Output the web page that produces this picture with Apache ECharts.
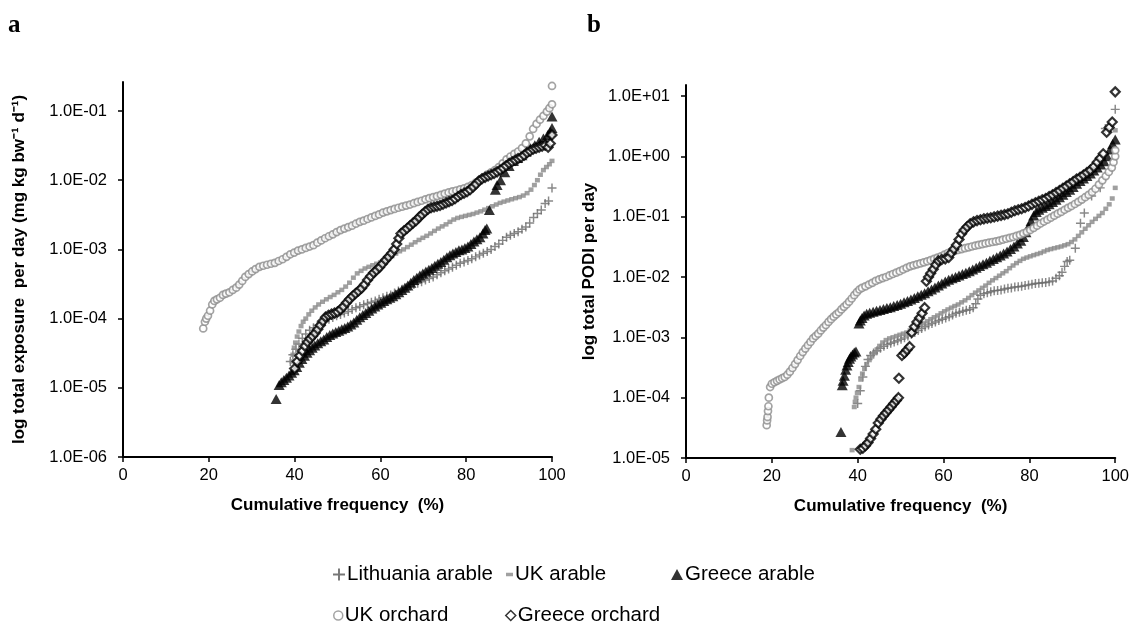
<!DOCTYPE html>
<html>
<head>
<meta charset="utf-8">
<script src="https://cdn.jsdelivr.net/npm/echarts@6/dist/echarts.min.js"></script>
<style>
html,body{margin:0;padding:0;background:#fff;}
#c{width:1132px;height:625px;}
</style>
</head>
<body>
<div id="c"></div>
<script>
// ---------- DATA (x = cumulative frequency %, y = value) ----------
const seriesNames = ['Lithuania arable', 'UK arable', 'Greece arable', 'UK orchard', 'Greece orchard'];
const xTicks = [0, 20, 40, 60, 80, 100];
const yTicksA = [-6, -5, -4, -3, -2, -1];      // log10 of tick values, panel a
const yTicksB = [-5, -4, -3, -2, -1, 0, 1];    // log10 of tick values, panel b

// Panel a: total exposure per day (mg kg bw-1 d-1)
const aLithuaniaArable = [[39.0,2.4e-5],[39.6,3.0e-5],[40.3,3.6e-5],[41.0,4.3e-5],[41.8,5.2e-5],[42.6,6.0e-5],[43.5,6.8e-5],[44.4,7.4e-5],[45.3,8.0e-5],[46.2,8.6e-5],[47.1,9.2e-5],[48.0,9.8e-5],[48.9,1.04e-4],[49.8,1.1e-4],[50.7,1.15e-4],[51.6,1.2e-4],[52.5,1.27e-4],[53.4,1.35e-4],[54.3,1.43e-4],[55.2,1.5e-4],[56.1,1.58e-4],[57.0,1.65e-4],[57.9,1.72e-4],[58.8,1.8e-4],[59.7,1.9e-4],[60.6,2.0e-4],[61.5,2.1e-4],[62.4,2.2e-4],[63.3,2.35e-4],[64.2,2.5e-4],[65.1,2.65e-4],[66.0,2.8e-4],[66.9,2.95e-4],[67.8,3.1e-4],[68.7,3.25e-4],[69.6,3.4e-4],[70.5,3.6e-4],[71.4,3.8e-4],[72.3,4.0e-4],[73.2,4.3e-4],[74.1,4.6e-4],[75.0,4.9e-4],[75.9,5.2e-4],[76.8,5.5e-4],[77.7,5.9e-4],[78.6,6.3e-4],[79.5,6.6e-4],[80.4,6.9e-4],[81.3,7.3e-4],[82.2,7.8e-4],[83.1,8.3e-4],[84.0,8.8e-4],[84.9,9.3e-4],[85.8,1.0e-3],[86.7,1.1e-3],[87.6,1.2e-3],[88.5,1.35e-3],[89.4,1.5e-3],[90.3,1.6e-3],[91.2,1.7e-3],[92.1,1.8e-3],[93.0,1.95e-3],[93.9,2.1e-3],[94.8,2.4e-3],[95.7,2.9e-3],[96.6,3.3e-3],[97.5,3.7e-3],[98.4,4.6e-3],[99.2,5.0e-3],[100,7.7e-3]];
const aUkArable = [[39.4,2.4e-5],[39.6,3.0e-5],[39.9,3.8e-5],[40.2,4.5e-5],[40.6,5.5e-5],[41.0,6.5e-5],[41.5,7.8e-5],[42.0,9.0e-5],[42.6,1.0e-4],[43.3,1.15e-4],[44.0,1.3e-4],[44.8,1.45e-4],[45.6,1.6e-4],[46.5,1.75e-4],[47.4,1.9e-4],[48.3,2.05e-4],[49.2,2.2e-4],[50.1,2.4e-4],[51.0,2.6e-4],[51.9,2.9e-4],[52.8,3.3e-4],[53.7,3.9e-4],[54.6,4.5e-4],[55.5,4.9e-4],[56.4,5.3e-4],[57.3,5.6e-4],[58.2,5.9e-4],[59.1,6.2e-4],[60.0,6.5e-4],[60.9,6.9e-4],[61.8,7.4e-4],[62.7,8.0e-4],[63.6,8.7e-4],[64.5,9.4e-4],[65.4,1.0e-3],[66.3,1.08e-3],[67.2,1.17e-3],[68.1,1.27e-3],[69.0,1.37e-3],[69.9,1.47e-3],[70.8,1.57e-3],[71.7,1.7e-3],[72.6,1.85e-3],[73.5,2.0e-3],[74.4,2.15e-3],[75.3,2.3e-3],[76.2,2.5e-3],[77.1,2.7e-3],[78.0,2.85e-3],[78.9,2.95e-3],[79.8,3.05e-3],[80.7,3.15e-3],[81.6,3.25e-3],[82.5,3.4e-3],[83.4,3.55e-3],[84.3,3.75e-3],[85.2,3.95e-3],[86.1,4.2e-3],[87.0,4.45e-3],[87.9,4.7e-3],[88.8,4.9e-3],[89.7,5.1e-3],[90.6,5.3e-3],[91.5,5.5e-3],[92.4,5.7e-3],[93.3,6.0e-3],[94.2,6.5e-3],[95.1,7.3e-3],[95.9,8.5e-3],[96.6,1.0e-2],[97.3,1.2e-2],[98.0,1.4e-2],[98.7,1.55e-2],[99.4,1.7e-2],[100,1.9e-2]];
const aGreeceArable = [[35.7,6.9e-6],[36.4,1.1e-5],[36.9,1.2e-5],[37.5,1.3e-5],[38.1,1.4e-5],[38.7,1.5e-5],[39.3,1.65e-5],[39.9,1.8e-5],[40.5,2.0e-5],[41.1,2.3e-5],[41.7,2.6e-5],[42.3,2.9e-5],[42.9,3.2e-5],[43.5,3.5e-5],[44.1,3.8e-5],[44.7,4.1e-5],[45.4,4.4e-5],[46.1,4.7e-5],[46.8,5.0e-5],[47.5,5.4e-5],[48.2,5.8e-5],[48.9,6.1e-5],[49.6,6.4e-5],[50.3,6.7e-5],[51.0,7.0e-5],[51.7,7.3e-5],[52.4,7.7e-5],[53.1,8.2e-5],[53.8,8.8e-5],[54.5,9.6e-5],[55.2,1.05e-4],[55.9,1.13e-4],[56.6,1.2e-4],[57.3,1.3e-4],[58.0,1.4e-4],[58.7,1.5e-4],[59.4,1.6e-4],[60.1,1.7e-4],[60.8,1.8e-4],[61.5,1.9e-4],[62.2,2.0e-4],[62.9,2.1e-4],[63.6,2.25e-4],[64.3,2.4e-4],[65.0,2.6e-4],[65.7,2.8e-4],[66.4,3.0e-4],[67.1,3.3e-4],[67.8,3.6e-4],[68.5,3.9e-4],[69.2,4.2e-4],[69.9,4.5e-4],[70.6,4.8e-4],[71.3,5.1e-4],[72.0,5.4e-4],[72.7,5.8e-4],[73.4,6.2e-4],[74.1,6.6e-4],[74.8,7.1e-4],[75.5,7.7e-4],[76.2,8.2e-4],[76.9,8.7e-4],[77.6,9.2e-4],[78.3,9.7e-4],[79.0,1.0e-3],[79.7,1.05e-3],[80.4,1.1e-3],[81.1,1.2e-3],[81.8,1.3e-3],[82.5,1.4e-3],[83.2,1.5e-3],[83.9,1.7e-3],[84.4,1.9e-3],[84.8,2.0e-3],[85.4,3.7e-3],[86.8,7.3e-3],[87.2,8.5e-3],[88.0,1.0e-2],[89.0,1.3e-2],[90.0,1.6e-2],[91.0,1.9e-2],[92.0,2.1e-2],[93.0,2.3e-2],[94.0,2.6e-2],[95.0,2.9e-2],[96.0,3.2e-2],[97.0,3.6e-2],[98.0,4.0e-2],[99.0,4.5e-2],[99.6,5.0e-2],[100,5.7e-2],[100,8.3e-2]];
const aUkOrchard = [[18.7,7.2e-5],[19.1,9.0e-5],[19.4,1.0e-4],[19.8,1.1e-4],[20.3,1.3e-4],[20.8,1.6e-4],[21.3,1.8e-4],[21.9,1.9e-4],[22.6,2.0e-4],[23.3,2.2e-4],[24.0,2.3e-4],[24.8,2.4e-4],[25.6,2.6e-4],[26.4,2.8e-4],[27.1,3.1e-4],[27.8,3.5e-4],[28.5,4.0e-4],[29.3,4.4e-4],[30.1,4.8e-4],[30.9,5.2e-4],[31.8,5.6e-4],[32.7,5.8e-4],[33.6,6.0e-4],[34.5,6.2e-4],[35.4,6.4e-4],[36.3,6.8e-4],[37.2,7.2e-4],[38.1,7.8e-4],[39.0,8.5e-4],[39.9,9.0e-4],[40.8,9.6e-4],[41.7,1.0e-3],[42.6,1.05e-3],[43.5,1.1e-3],[44.4,1.15e-3],[45.3,1.25e-3],[46.2,1.35e-3],[47.1,1.45e-3],[48.0,1.55e-3],[48.9,1.65e-3],[49.8,1.78e-3],[50.7,1.9e-3],[51.6,2.0e-3],[52.5,2.1e-3],[53.4,2.2e-3],[54.3,2.35e-3],[55.2,2.5e-3],[56.1,2.6e-3],[57.0,2.75e-3],[57.9,2.9e-3],[58.8,3.05e-3],[59.7,3.2e-3],[60.6,3.4e-3],[61.5,3.55e-3],[62.4,3.7e-3],[63.3,3.85e-3],[64.2,4.0e-3],[65.1,4.15e-3],[66.0,4.3e-3],[66.9,4.45e-3],[67.8,4.65e-3],[68.7,4.85e-3],[69.6,5.05e-3],[70.5,5.3e-3],[71.4,5.5e-3],[72.3,5.7e-3],[73.2,5.9e-3],[74.1,6.15e-3],[75.0,6.4e-3],[75.9,6.65e-3],[76.8,6.9e-3],[77.7,7.1e-3],[78.6,7.35e-3],[79.5,7.6e-3],[80.4,8.0e-3],[81.3,8.5e-3],[82.2,9.2e-3],[83.1,1.0e-2],[84.0,1.1e-2],[84.9,1.2e-2],[85.8,1.3e-2],[86.7,1.4e-2],[87.6,1.55e-2],[88.5,1.75e-2],[89.4,2.0e-2],[90.3,2.2e-2],[91.2,2.4e-2],[92.1,2.6e-2],[93.0,2.9e-2],[93.9,3.4e-2],[94.8,4.3e-2],[95.6,5.5e-2],[96.4,6.5e-2],[97.2,7.5e-2],[98.0,8.5e-2],[98.8,9.8e-2],[99.4,1.1e-1],[100,1.25e-1],[100,2.3e-1],[100,2.7e-1]];
const aGreeceOrchard = [[40.0,1.9e-5],[40.6,2.4e-5],[41.2,2.9e-5],[41.8,3.4e-5],[42.4,4.0e-5],[43.0,4.6e-5],[43.6,5.1e-5],[44.2,5.6e-5],[44.8,6.2e-5],[45.4,7.0e-5],[46.0,8.0e-5],[46.6,9.2e-5],[47.2,1.05e-4],[47.9,1.12e-4],[48.6,1.16e-4],[49.3,1.2e-4],[50.0,1.25e-4],[50.7,1.35e-4],[51.4,1.5e-4],[52.1,1.7e-4],[52.8,1.9e-4],[53.5,2.1e-4],[54.2,2.3e-4],[54.9,2.5e-4],[55.6,2.75e-4],[56.3,3.1e-4],[57.0,3.6e-4],[57.7,4.1e-4],[58.4,4.6e-4],[59.1,5.0e-4],[59.8,5.5e-4],[60.5,6.2e-4],[61.2,7.0e-4],[61.9,7.8e-4],[62.6,8.8e-4],[63.2,1.0e-3],[63.8,1.2e-3],[64.3,1.45e-3],[64.8,1.7e-3],[65.5,1.85e-3],[66.2,2.0e-3],[66.9,2.2e-3],[67.6,2.4e-3],[68.3,2.6e-3],[69.0,2.9e-3],[69.7,3.2e-3],[70.4,3.5e-3],[71.1,3.8e-3],[71.8,4.0e-3],[72.5,4.1e-3],[73.2,4.2e-3],[73.9,4.3e-3],[74.6,4.5e-3],[75.3,4.7e-3],[76.0,4.9e-3],[76.7,5.1e-3],[77.4,5.4e-3],[78.1,5.8e-3],[78.8,6.2e-3],[79.5,6.5e-3],[80.2,6.8e-3],[80.9,7.3e-3],[81.6,8.0e-3],[82.3,8.8e-3],[83.0,9.8e-3],[83.7,1.05e-2],[84.4,1.1e-2],[85.1,1.15e-2],[85.8,1.2e-2],[86.5,1.25e-2],[87.2,1.32e-2],[87.9,1.4e-2],[88.6,1.5e-2],[89.3,1.62e-2],[90.0,1.75e-2],[90.7,1.85e-2],[91.4,1.95e-2],[92.1,2.05e-2],[92.8,2.15e-2],[93.5,2.3e-2],[94.2,2.5e-2],[94.9,2.65e-2],[95.6,2.8e-2],[96.3,2.9e-2],[97.0,3.0e-2],[97.7,3.1e-2],[98.4,3.2e-2],[99.1,3.0e-2],[99.6,3.4e-2],[100,4.5e-2]];

// Panel b: total PODI per day
const bLithuaniaArable = [[40.0,8.0e-5],[40.6,1.3e-4],[41.2,2.2e-4],[41.8,3.3e-4],[42.4,4.3e-4],[43.0,5.0e-4],[43.7,5.5e-4],[44.5,6.0e-4],[45.3,6.6e-4],[46.1,7.1e-4],[46.9,7.6e-4],[47.7,8.0e-4],[48.5,8.4e-4],[49.3,8.8e-4],[50.1,9.3e-4],[50.9,9.8e-4],[51.7,1.05e-3],[52.5,1.12e-3],[53.3,1.2e-3],[54.1,1.3e-3],[54.9,1.4e-3],[55.7,1.5e-3],[56.5,1.6e-3],[57.3,1.7e-3],[58.1,1.8e-3],[58.9,1.9e-3],[59.7,2.0e-3],[60.5,2.1e-3],[61.3,2.2e-3],[62.1,2.35e-3],[62.9,2.5e-3],[63.7,2.6e-3],[64.5,2.7e-3],[65.3,2.8e-3],[66.1,2.9e-3],[66.9,3.1e-3],[67.5,3.6e-3],[68.0,4.3e-3],[68.6,5.0e-3],[69.4,5.3e-3],[70.2,5.5e-3],[71.0,5.7e-3],[71.8,5.9e-3],[72.6,6.0e-3],[73.4,6.1e-3],[74.2,6.3e-3],[75.0,6.5e-3],[75.8,6.6e-3],[76.6,6.8e-3],[77.4,6.9e-3],[78.2,7.0e-3],[79.0,7.2e-3],[79.8,7.4e-3],[80.6,7.6e-3],[81.4,7.8e-3],[82.2,7.9e-3],[83.0,8.0e-3],[83.8,8.1e-3],[84.6,8.3e-3],[85.4,8.6e-3],[86.2,9.5e-3],[87.0,1.05e-2],[87.6,1.2e-2],[88.2,1.5e-2],[88.8,1.8e-2],[89.4,1.9e-2],[90.7,3.0e-2],[91.9,7.8e-2],[92.8,1.15e-1],[94.5,2.2e-1],[96.5,3.0e-1],[97.7,2.9],[100,6.0]];
const bUkArable = [[38.7,1.35e-5],[39.2,7.0e-5],[39.4,8.5e-5],[39.6,1.0e-4],[39.9,1.2e-4],[40.3,1.5e-4],[40.7,2.0e-4],[41.1,2.5e-4],[41.6,3.0e-4],[42.1,3.6e-4],[42.7,4.2e-4],[43.3,4.8e-4],[43.9,5.5e-4],[44.5,6.3e-4],[45.1,7.2e-4],[45.8,8.2e-4],[46.6,9.0e-4],[47.4,9.6e-4],[48.2,1.0e-3],[49.0,1.05e-3],[49.8,1.1e-3],[50.6,1.15e-3],[51.4,1.2e-3],[52.2,1.3e-3],[53.0,1.4e-3],[53.8,1.5e-3],[54.6,1.6e-3],[55.4,1.7e-3],[56.2,1.85e-3],[57.0,2.0e-3],[57.8,2.15e-3],[58.6,2.3e-3],[59.4,2.5e-3],[60.2,2.7e-3],[61.0,2.9e-3],[61.8,3.1e-3],[62.6,3.3e-3],[63.4,3.5e-3],[64.2,3.8e-3],[65.0,4.1e-3],[65.8,4.5e-3],[66.6,5.0e-3],[67.4,5.5e-3],[68.2,6.0e-3],[69.0,6.6e-3],[69.8,7.2e-3],[70.6,8.0e-3],[71.4,8.8e-3],[72.2,9.6e-3],[73.0,1.05e-2],[73.8,1.15e-2],[74.6,1.25e-2],[75.4,1.4e-2],[76.2,1.55e-2],[77.0,1.7e-2],[77.8,1.85e-2],[78.6,2.0e-2],[79.4,2.1e-2],[80.2,2.2e-2],[81.0,2.3e-2],[81.8,2.4e-2],[82.6,2.5e-2],[83.4,2.65e-2],[84.2,2.8e-2],[85.0,2.9e-2],[85.8,3.0e-2],[86.6,3.1e-2],[87.4,3.2e-2],[88.2,3.35e-2],[89.0,3.5e-2],[89.8,3.8e-2],[90.6,4.2e-2],[91.4,4.8e-2],[92.2,5.5e-2],[93.0,6.3e-2],[93.8,7.2e-2],[94.6,8.2e-2],[95.4,9.2e-2],[96.2,1.03e-1],[97.0,1.15e-1],[97.8,1.35e-1],[98.6,1.6e-1],[99.3,2.0e-1],[100,3.0e-1],[100,2.7]];
const bGreeceArable = [[36.1,2.7e-5],[36.4,1.6e-4],[36.6,1.9e-4],[36.9,2.3e-4],[37.2,2.9e-4],[37.5,3.4e-4],[37.8,3.9e-4],[38.1,4.4e-4],[38.4,4.8e-4],[38.8,5.2e-4],[39.2,5.6e-4],[39.6,5.8e-4],[40.3,1.7e-3],[40.6,1.9e-3],[41.0,2.1e-3],[41.5,2.3e-3],[42.1,2.45e-3],[42.8,2.55e-3],[43.6,2.65e-3],[44.4,2.75e-3],[45.2,2.85e-3],[46.0,2.95e-3],[46.8,3.05e-3],[47.6,3.15e-3],[48.4,3.3e-3],[49.2,3.45e-3],[50.0,3.6e-3],[50.8,3.8e-3],[51.6,4.0e-3],[52.4,4.25e-3],[53.2,4.5e-3],[54.0,4.8e-3],[54.8,5.1e-3],[55.6,5.4e-3],[56.4,5.8e-3],[57.2,6.2e-3],[58.0,6.7e-3],[58.8,7.2e-3],[59.6,7.8e-3],[60.4,8.4e-3],[61.2,9.0e-3],[62.0,9.5e-3],[62.8,1.0e-2],[63.6,1.06e-2],[64.4,1.12e-2],[65.2,1.18e-2],[66.0,1.25e-2],[66.8,1.33e-2],[67.6,1.42e-2],[68.4,1.52e-2],[69.2,1.62e-2],[70.0,1.73e-2],[70.8,1.85e-2],[71.6,1.98e-2],[72.4,2.12e-2],[73.2,2.27e-2],[74.0,2.45e-2],[74.8,2.65e-2],[75.6,2.9e-2],[76.4,3.2e-2],[77.2,3.6e-2],[78.0,4.0e-2],[78.6,4.6e-2],[79.2,5.5e-2],[79.8,6.8e-2],[80.4,8.5e-2],[81.0,1.05e-1],[81.6,1.2e-1],[82.2,1.3e-1],[83.0,1.4e-1],[83.8,1.5e-1],[84.6,1.6e-1],[85.4,1.75e-1],[86.2,1.9e-1],[87.0,2.1e-1],[87.8,2.3e-1],[88.6,2.55e-1],[89.4,2.8e-1],[90.2,3.1e-1],[91.0,3.5e-1],[91.8,3.9e-1],[92.6,4.3e-1],[93.4,4.7e-1],[94.2,5.2e-1],[95.0,5.8e-1],[95.8,6.5e-1],[96.6,7.3e-1],[97.4,8.3e-1],[98.1,1.0],[98.8,1.3],[99.4,1.6],[100,1.9]];
const bUkOrchard = [[18.8,3.5e-5],[18.9,4.2e-5],[19.0,4.8e-5],[19.1,6.0e-5],[19.2,7.2e-5],[19.3,1.0e-4],[19.6,1.5e-4],[20.0,1.7e-4],[20.6,1.8e-4],[21.2,1.9e-4],[21.8,2.0e-4],[22.4,2.1e-4],[23.0,2.2e-4],[23.6,2.4e-4],[24.2,2.7e-4],[24.8,3.1e-4],[25.4,3.6e-4],[26.0,4.2e-4],[26.6,4.9e-4],[27.2,5.7e-4],[27.8,6.5e-4],[28.4,7.4e-4],[29.0,8.4e-4],[29.6,9.6e-4],[30.2,1.05e-3],[30.8,1.15e-3],[31.4,1.3e-3],[32.0,1.45e-3],[32.6,1.6e-3],[33.2,1.8e-3],[33.8,2.0e-3],[34.4,2.2e-3],[35.0,2.4e-3],[35.6,2.6e-3],[36.2,2.9e-3],[36.8,3.2e-3],[37.4,3.5e-3],[38.0,3.9e-3],[38.6,4.4e-3],[39.2,5.0e-3],[39.8,5.6e-3],[40.4,6.2e-3],[41.0,6.6e-3],[41.8,7.0e-3],[42.6,7.5e-3],[43.4,8.0e-3],[44.2,8.6e-3],[45.0,9.1e-3],[45.8,9.6e-3],[46.6,1.0e-2],[47.4,1.06e-2],[48.2,1.12e-2],[49.0,1.18e-2],[49.8,1.25e-2],[50.6,1.33e-2],[51.4,1.42e-2],[52.2,1.5e-2],[53.0,1.56e-2],[53.8,1.62e-2],[54.6,1.68e-2],[55.4,1.75e-2],[56.2,1.82e-2],[57.0,1.9e-2],[57.8,2.0e-2],[58.6,2.1e-2],[59.4,2.2e-2],[60.2,2.35e-2],[61.0,2.5e-2],[61.8,2.6e-2],[62.6,2.7e-2],[63.4,2.8e-2],[64.2,2.9e-2],[65.0,3.0e-2],[65.8,3.1e-2],[66.6,3.2e-2],[67.4,3.3e-2],[68.2,3.4e-2],[69.0,3.5e-2],[69.8,3.6e-2],[70.6,3.7e-2],[71.4,3.8e-2],[72.2,3.9e-2],[73.0,4.0e-2],[73.8,4.15e-2],[74.6,4.3e-2],[75.4,4.45e-2],[76.2,4.6e-2],[77.0,4.8e-2],[77.8,5.0e-2],[78.6,5.3e-2],[79.4,5.6e-2],[80.2,6.0e-2],[81.0,6.5e-2],[81.8,7.1e-2],[82.6,7.7e-2],[83.4,8.3e-2],[84.2,8.9e-2],[85.0,9.6e-2],[85.8,1.04e-1],[86.6,1.12e-1],[87.4,1.2e-1],[88.2,1.3e-1],[89.0,1.4e-1],[89.8,1.5e-1],[90.6,1.62e-1],[91.4,1.76e-1],[92.2,1.92e-1],[93.0,2.1e-1],[93.8,2.3e-1],[94.6,2.55e-1],[95.4,2.9e-1],[96.2,3.4e-1],[97.0,4.0e-1],[97.8,4.7e-1],[98.5,5.5e-1],[99.2,6.5e-1],[99.6,8.0e-1],[100,1.0],[100,1.26]];
const bGreeceOrchard = [[40.6,1.4e-5],[41.2,1.45e-5],[41.8,1.6e-5],[42.4,1.8e-5],[43.0,2.1e-5],[43.6,2.5e-5],[44.2,3.0e-5],[44.8,3.8e-5],[45.4,4.4e-5],[46.0,5.0e-5],[46.6,5.6e-5],[47.2,6.3e-5],[47.8,7.1e-5],[48.4,8.0e-5],[49.0,9.0e-5],[49.5,1.0e-4],[49.6,2.1e-4],[50.3,5.0e-4],[50.9,5.5e-4],[51.5,6.2e-4],[52.1,7.0e-4],[52.6,1.2e-3],[53.2,1.5e-3],[53.8,1.8e-3],[54.4,2.1e-3],[55.0,2.5e-3],[55.6,3.1e-3],[56.0,8.5e-3],[56.5,1.0e-2],[57.0,1.15e-2],[57.6,1.35e-2],[58.2,1.6e-2],[58.8,1.85e-2],[59.6,1.95e-2],[60.4,2.0e-2],[61.2,2.1e-2],[61.8,2.5e-2],[62.4,2.9e-2],[63.0,3.4e-2],[63.6,4.2e-2],[64.2,5.2e-2],[64.8,6.0e-2],[65.5,6.8e-2],[66.2,7.6e-2],[67.0,8.2e-2],[67.8,8.6e-2],[68.6,8.9e-2],[69.4,9.2e-2],[70.2,9.4e-2],[71.0,9.6e-2],[71.8,9.9e-2],[72.6,1.02e-1],[73.4,1.05e-1],[74.2,1.08e-1],[75.0,1.12e-1],[75.8,1.18e-1],[76.6,1.25e-1],[77.4,1.3e-1],[78.2,1.35e-1],[79.0,1.42e-1],[79.8,1.5e-1],[80.6,1.6e-1],[81.4,1.7e-1],[82.2,1.8e-1],[83.0,1.9e-1],[83.8,2.0e-1],[84.6,2.15e-1],[85.4,2.3e-1],[86.2,2.5e-1],[87.0,2.7e-1],[87.8,2.95e-1],[88.6,3.2e-1],[89.4,3.5e-1],[90.2,3.8e-1],[91.0,4.2e-1],[91.8,4.5e-1],[92.6,4.9e-1],[93.4,5.4e-1],[94.2,5.9e-1],[95.0,6.7e-1],[95.8,8.0e-1],[96.5,9.3e-1],[97.2,1.1],[98.0,2.5],[98.6,3.0],[99.3,3.7],[100,11.7]];

// ---------- CHART ----------
const FONT = '"Liberation Sans", Arial, Helvetica, sans-serif';
const toLog = arr => arr.map(p => [p[0], Math.log10(p[1])]);
const fmtE = v => { const n = Math.round(v); return '1.0E' + (n < 0 ? '-' : '+') + String(Math.abs(n)).padStart(2, '0'); };

const PLUS = 'path://M0,3.35H8V4.65H0Z M3.35,0H4.65V8H3.35Z';
const styles = {
  'Lithuania arable': { symbol: PLUS, symbolSize: 9, itemStyle: { color: '#6a6a6a' } },
  'UK arable': { symbol: 'rect', symbolSize: [5, 4.5], itemStyle: { color: '#888' } },
  'Greece arable': { symbol: 'triangle', symbolSize: [11, 10], itemStyle: { color: '#000' } },
  'UK orchard': { symbol: 'circle', symbolSize: 7, itemStyle: { color: '#fff', borderColor: '#8c8c8c', borderWidth: 1.7 } },
  'Greece orchard': { symbol: 'diamond', symbolSize: 9, itemStyle: { color: '#fff', borderColor: '#000', borderWidth: 2.2 } }
};

const panelA = [aLithuaniaArable, aUkArable, aGreeceArable, aUkOrchard, aGreeceOrchard];
const panelB = [bLithuaniaArable, bUkArable, bGreeceArable, bUkOrchard, bGreeceOrchard];

const series = [];
[panelA, panelB].forEach((panel, gi) => {
  panel.forEach((data, si) => {
    const name = seriesNames[si];
    series.push(Object.assign({
      type: 'scatter', name, xAxisIndex: gi, yAxisIndex: gi,
      data: toLog(data), z: 2 + si, animation: false, emphasis: { disabled: true }
    }, JSON.parse(JSON.stringify(styles[name]))));
  });
});

function xAxisCfg(gi) {
  return {
    gridIndex: gi, type: 'value', min: 0, max: 100, interval: 20,
    name: 'Cumulative frequency  (%)', nameLocation: 'middle', nameGap: 40,
    nameTextStyle: { fontFamily: FONT, fontSize: 17, fontWeight: 'bold', color: '#000' },
    axisLine: { show: true, onZero: false, lineStyle: { color: '#000', width: 2 } },
    axisTick: { show: true, length: 5, lineStyle: { color: '#000', width: 1.5 }, customValues: xTicks },
    axisLabel: { fontFamily: FONT, fontSize: 16.5, color: '#000', margin: 10, customValues: xTicks },
    splitLine: { show: false }
  };
}
function yAxisCfg(gi, min, max, ticks, name, gap) {
  return {
    gridIndex: gi, type: 'value', min, max, interval: 1,
    name, nameLocation: 'middle', nameGap: gap, nameRotate: 90,
    nameTextStyle: { fontFamily: FONT, fontSize: 17, fontWeight: 'bold', color: '#000' },
    axisLine: { show: true, onZero: false, lineStyle: { color: '#000', width: 2 } },
    axisTick: { show: true, length: 5, lineStyle: { color: '#000', width: 1.5 }, customValues: ticks },
    axisLabel: { fontFamily: FONT, fontSize: 16.5, color: '#000', margin: 16, customValues: ticks, formatter: fmtE },
    splitLine: { show: false }
  };
}

const legendIcons = {
  'Lithuania arable': { icon: PLUS, itemStyle: { color: '#555' } },
  'UK arable': { icon: 'path://M0,0H6V3H0Z', itemStyle: { color: '#8a8a8a' } },
  'Greece arable': { icon: 'triangle', itemStyle: { color: '#000' } },
  'UK orchard': { icon: 'circle', itemStyle: { color: '#fff', borderColor: '#8c8c8c', borderWidth: 1.5 } },
  'Greece orchard': { icon: 'diamond', itemStyle: { color: '#fff', borderColor: '#000', borderWidth: 1.5 } }
};
const legendPos = [
  ['Lithuania arable', 333, 564, 12, 12],
  ['UK arable', 506, 564, 7, 12],
  ['Greece arable', 671, 564, 12, 11],
  ['UK orchard', 333, 605, 9, 9],
  ['Greece orchard', 505, 605, 10, 10]
];
const legends = legendPos.map(([name, x, y, w, h]) => ({
  left: x, top: y, padding: 0, itemWidth: w, itemHeight: h, itemGap: 0,
  selectedMode: false,
  textStyle: { fontFamily: FONT, fontSize: 20.5, color: '#000', padding: [0, 0, 0, -3] },
  data: [Object.assign({ name }, legendIcons[name])]
}));

const chart = echarts.init(document.getElementById('c'), null, { renderer: 'canvas' });
chart.setOption({
  animation: false,
  backgroundColor: '#fff',
  grid: [
    { left: 123, top: 82, width: 429, height: 375 },
    { left: 686, top: 85, width: 432, height: 373 }
  ],
  xAxis: [xAxisCfg(0), xAxisCfg(1)],
  yAxis: [
    yAxisCfg(0, -6, -0.581, yTicksA, 'log total exposure  per day (mg kg bw\u207B\u00B9 d\u207B\u00B9)', 95),
    yAxisCfg(1, -5, 1.182, yTicksB, 'log total PODI per day', 88)
  ],
  legend: legends,
  series,
  graphic: [
    { type: 'text', left: 8, top: 13, style: { text: 'a', font: 'bold 25px "Liberation Serif", "Times New Roman", serif', fill: '#000' } },
    { type: 'text', left: 587, top: 13, style: { text: 'b', font: 'bold 25px "Liberation Serif", "Times New Roman", serif', fill: '#000' } }
  ]
});
</script>
</body>
</html>
